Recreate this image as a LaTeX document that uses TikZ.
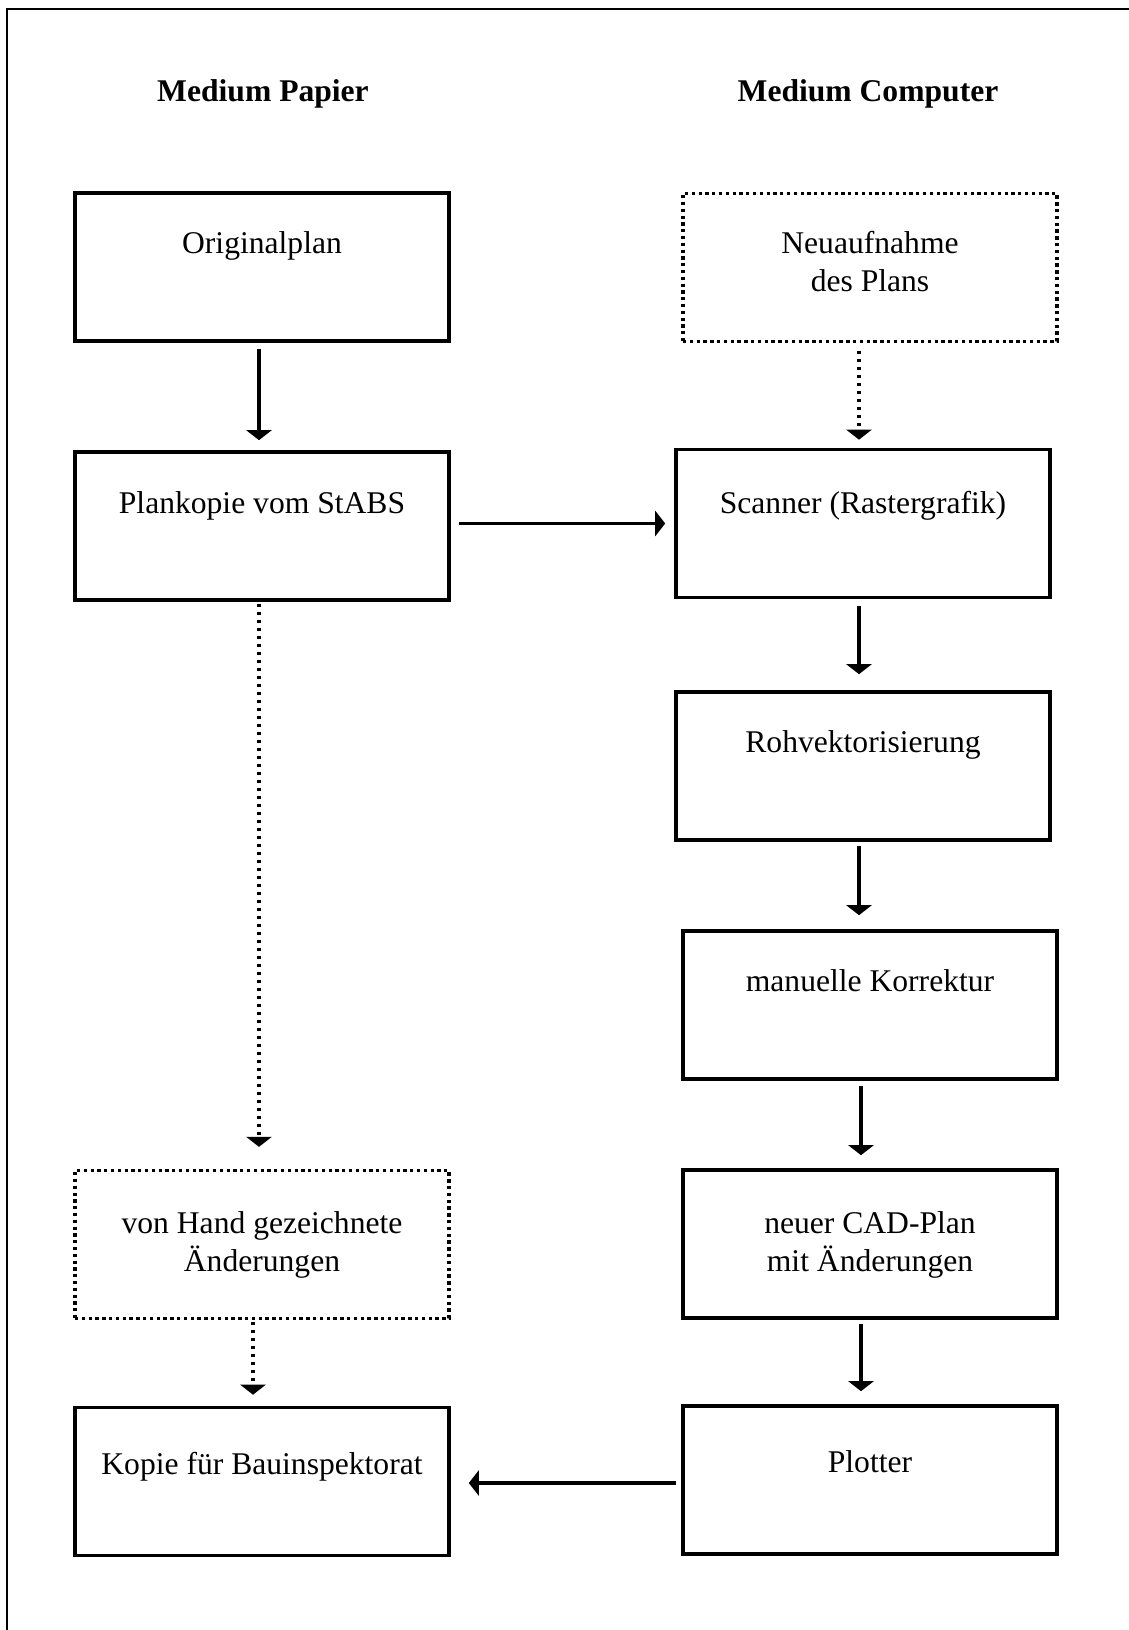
\documentclass[tikz,border=0pt]{standalone}
\usepackage{fontspec}
\setmainfont{Liberation Serif}
\usetikzlibrary{arrows.meta}

\begin{document}
\begin{tikzpicture}[x=1pt,y=-1pt,
  txt/.style={font=\fontsize{31.6}{38}\selectfont, align=center, inner sep=0pt, anchor=north},
  head/.style={font=\fontsize{31.6}{38}\selectfont\bfseries, inner sep=0pt, anchor=base},
  box/.style={draw, line width=3.6pt, minimum width=374pt, minimum height=148pt, inner sep=0pt},
  dotbox/.style={box, line width=3.3pt, dash pattern=on 3.3pt off 3.5pt},
  arr/.style={line width=3.5pt, -{Triangle[width=25pt,length=10pt]}},
  dotarr/.style={arr, line width=3.3pt, dash pattern=on 3.3pt off 4.7pt},
]
\useasboundingbox (0,0) rectangle (1129,1630);

% frame: only the top and left edges fall inside the page
\draw[line width=2.4pt] (7,1640) -- (7,9) -- (1140,9);

% column headings
\node[head] (hp) at (263,101) {Medium Papier};
\node[head] (hc) at (868,101) {Medium Computer};

% left column: paper
\node[box]    (op)  at (262,267)    {};
\node[box]    (pk)  at (262,526)    {};
\node[dotbox] (vh)  at (262,1244.5) {};
\node[box]    (kb)  at (262,1481.5) {};

% right column: computer
\node[dotbox] (na)  at (870,267.5) {};
\node[box]    (sc)  at (863,523.5) {};
\node[box]    (rv)  at (863,766)   {};
\node[box]    (mk)  at (870,1005)  {};
\node[box]    (cad) at (870,1244)  {};
\node[box]    (pl)  at (870,1480)  {};

% box labels, set in the upper part of each box
\node[txt] (top)  at ([yshift=-40.5pt]op.north)  {Originalplan};
\node[txt] (tpk)  at ([yshift=-41.5pt]pk.north)  {Plankopie vom StABS};
\node[txt] (tvh)  at ([yshift=-42.5pt]vh.north)  {von Hand gezeichnete\\Änderungen};
\node[txt] (tkb)  at ([yshift=-46.5pt]kb.north)  {Kopie für Bauinspektorat};
\node[txt] (tna)  at ([yshift=-39.5pt]na.north)  {Neuaufnahme\\des Plans};
\node[txt] (tsc)  at ([yshift=-43.5pt]sc.north)  {Scanner (Rastergrafik)};
\node[txt] (trv)  at ([yshift=-40.5pt]rv.north)  {Rohvektorisierung};
\node[txt] (tmk)  at ([yshift=-40.5pt]mk.north)  {manuelle Korrektur};
\node[txt] (tcad) at ([yshift=-43.5pt]cad.north) {neuer CAD-Plan\\mit Änderungen};
\node[txt] (tpl)  at ([yshift=-46.5pt]pl.north)  {Plotter};

% connectors, paper side
\draw[arr, shorten <=6pt, shorten >=10pt]
  ([xshift=-3pt]op.south) -- ([xshift=-3pt]op.south |- pk.north);
\draw[dotarr, shorten <=2pt, shorten >=22pt]
  ([xshift=-3pt]pk.south) -- ([xshift=-3pt]pk.south |- vh.north);
\draw[dotarr, shorten <=2pt, shorten >=11pt]
  ([xshift=-9pt]vh.south) -- ([xshift=-9pt]vh.south |- kb.north);

% connectors, computer side
\draw[dotarr, shorten <=8pt, shorten >=8pt]
  ([xshift=-11pt]na.south) -- ([xshift=-11pt]na.south |- sc.north);
\draw[arr, shorten <=7pt, shorten >=16pt]
  ([xshift=-4pt]sc.south) -- ([xshift=-4pt]sc.south |- rv.north);
\draw[arr, shorten <=4pt, shorten >=14pt]
  ([xshift=-4pt]rv.south) -- ([xshift=-4pt]rv.south |- mk.north);
\draw[arr, shorten <=5pt, shorten >=13pt]
  ([xshift=-9pt]mk.south) -- ([xshift=-9pt]mk.south |- cad.north);
\draw[arr, shorten <=4pt, shorten >=13pt]
  ([xshift=-9pt]cad.south) -- ([xshift=-9pt]cad.south |- pl.north);

% connectors across the columns
\draw[arr, shorten <=8pt, shorten >=9pt]
  (pk.east |- sc.west) -- (sc.west);
\draw[arr, shorten <=5pt, shorten >=18pt]
  ([yshift=-3pt]pl.west) -- ([yshift=-3pt]pl.west -| kb.east);
\end{tikzpicture}
\end{document}
